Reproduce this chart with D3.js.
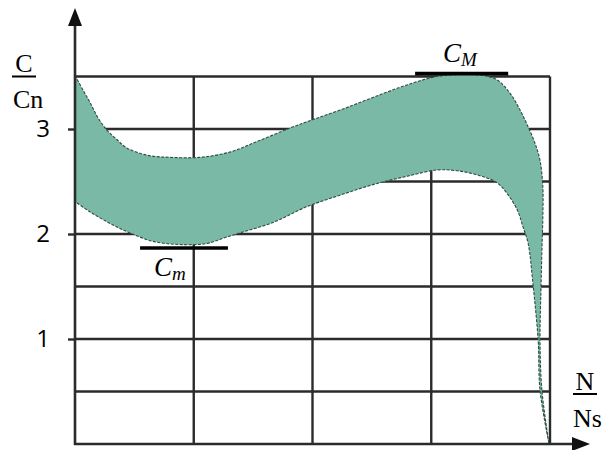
<!DOCTYPE html>
<html>
<head>
<meta charset="utf-8">
<script src="https://cdn.jsdelivr.net/npm/d3@7"></script>
<style>
  html, body { margin: 0; padding: 0; background: #fff; }
  svg { display: block; }
</style>
</head>
<body>
<svg id="chart" width="609" height="450"></svg>
<script>
// Torque band C/Cn against speed N/Ns: upper and lower limiting curves
const upperN = [0, 0.017, 0.032, 0.048, 0.067, 0.088, 0.109, 0.152, 0.2, 0.263, 0.326, 0.383, 0.453, 0.501, 0.558, 0.627, 0.699, 0.762, 0.821, 0.859, 0.888, 0.916, 0.937, 0.954, 0.968, 0.979, 0.985, 0.985, 0.983, 0.981, 0.979, 0.983, 0.998];
const upperC = [3.51, 3.37, 3.25, 3.11, 2.99, 2.90, 2.82, 2.75, 2.73, 2.73, 2.78, 2.88, 3.01, 3.09, 3.18, 3.30, 3.42, 3.50, 3.52, 3.51, 3.47, 3.34, 3.18, 3.02, 2.87, 2.70, 2.44, 2.18, 1.85, 1.47, 0.99, 0.51, 0.0];
const lowerN = [0, 0.032, 0.074, 0.116, 0.164, 0.221, 0.278, 0.312, 0.347, 0.417, 0.488, 0.558, 0.627, 0.699, 0.762, 0.8, 0.832, 0.863, 0.888, 0.909, 0.931, 0.943, 0.954, 0.964, 0.975, 0.979, 0.998];
const lowerC = [2.31, 2.21, 2.10, 2.01, 1.93, 1.90, 1.91, 1.96, 2.01, 2.11, 2.26, 2.37, 2.47, 2.55, 2.61, 2.605, 2.58, 2.54, 2.49, 2.39, 2.23, 2.07, 1.91, 1.53, 0.99, 0.51, 0.0];

// Axis ticks and grid
const yTickValues = [1, 2, 3];
const yGridValues = [0.5, 1, 1.5, 2, 2.5, 3, 3.5];
const xGridValues = [0.25, 0.5, 0.75, 1];

// Maximum and minimum torque markers: [start N, end N, C]
const maxMarker = [0.716, 0.912, 3.527];
const minMarker = [0.137, 0.322, 1.867];

const svg = d3.select("#chart");
const x = d3.scaleLinear().domain([0, 1]).range([75, 550]);
const y = d3.scaleLinear().domain([0, 3.5]).range([444, 76.5]);

const lineColor = "#2b2b2b";

// grid
const grid = svg.append("g");
grid.selectAll("line.h").data(yGridValues).join("line")
  .attr("x1", x(0)).attr("x2", x(1))
  .attr("y1", d => y(d)).attr("y2", d => y(d))
  .attr("stroke", lineColor).attr("stroke-width", 2.4);
grid.selectAll("line.v").data(xGridValues).join("line")
  .attr("x1", d => x(d)).attr("x2", d => x(d))
  .attr("y1", y(0)).attr("y2", y(3.5))
  .attr("stroke", lineColor).attr("stroke-width", 2.4);

// y axis ticks and labels
const yAxis = d3.axisLeft(y).tickValues(yTickValues).tickSize(7).tickPadding(18).tickFormat(d3.format("d"));
const ya = svg.append("g").attr("transform", `translate(${x(0)},0)`).call(yAxis);
ya.select(".domain").remove();
ya.selectAll(".tick line").attr("stroke", lineColor).attr("stroke-width", 2.4);
ya.selectAll(".tick text")
  .attr("font-family", "'Open Sans', sans-serif")
  .attr("font-size", 24).attr("fill", "#000");

// torque band
const pts = (ns, cs) => ns.map((n, i) => [x(n), y(cs[i])]);
const up = pts(upperN, upperC);
const lo = pts(lowerN, lowerC).reverse();
const curve = d3.line().curve(d3.curveCatmullRom.alpha(0.5));
const bandPath = curve(up) + "L" + curve(lo).slice(1) + "Z";
svg.append("path")
  .attr("d", bandPath)
  .attr("fill", "#79b9a6")
  .attr("stroke", "#2f4a43")
  .attr("stroke-width", 1.1)
  .attr("stroke-dasharray", "3 1.5");

// axes with arrows
svg.append("line")
  .attr("x1", x(0)).attr("x2", x(0)).attr("y1", y(0) + 1).attr("y2", 20)
  .attr("stroke", lineColor).attr("stroke-width", 2.6);
svg.append("path")
  .attr("d", `M${x(0)},8 L${x(0) - 7},26 L${x(0) + 7},26 Z`)
  .attr("fill", "#111");
svg.append("line")
  .attr("x1", x(0) - 1).attr("x2", 578).attr("y1", y(0)).attr("y2", y(0))
  .attr("stroke", lineColor).attr("stroke-width", 2.6);
svg.append("path")
  .attr("d", `M590,${y(0)} L572,${y(0) - 7} L572,${y(0) + 7} Z`)
  .attr("fill", "#111");

// max / min markers
svg.append("line")
  .attr("x1", x(maxMarker[0])).attr("x2", x(maxMarker[1]))
  .attr("y1", y(maxMarker[2])).attr("y2", y(maxMarker[2]))
  .attr("stroke", "#000").attr("stroke-width", 3.6);
svg.append("line")
  .attr("x1", x(minMarker[0])).attr("x2", x(minMarker[1]))
  .attr("y1", y(minMarker[2])).attr("y2", y(minMarker[2]))
  .attr("stroke", "#000").attr("stroke-width", 3.6);

const serif = "'Liberation Serif', 'Times New Roman', serif";
const tM = svg.append("text").attr("x", 443).attr("y", 62)
  .attr("font-family", serif).attr("font-style", "italic").attr("font-size", 27).attr("fill", "#000");
tM.append("tspan").text("C");
tM.append("tspan").attr("font-size", 19).attr("dy", 4).text("M");

const tm = svg.append("text").attr("x", 154).attr("y", 276)
  .attr("font-family", serif).attr("font-style", "italic").attr("font-size", 27).attr("fill", "#000");
tm.append("tspan").text("C");
tm.append("tspan").attr("font-size", 19).attr("dy", 4).text("m");

// axis titles
svg.append("text").attr("x", 24).attr("y", 72).attr("text-anchor", "middle")
  .attr("font-family", serif).attr("font-size", 26).text("C");
svg.append("line").attr("x1", 12).attr("x2", 36).attr("y1", 76.5).attr("y2", 76.5)
  .attr("stroke", "#000").attr("stroke-width", 2);
svg.append("text").attr("x", 13).attr("y", 108)
  .attr("font-family", serif).attr("font-size", 26).text("Cn");

svg.append("text").attr("x", 585).attr("y", 390).attr("text-anchor", "middle")
  .attr("font-family", serif).attr("font-size", 26).text("N");
svg.append("line").attr("x1", 573).attr("x2", 597).attr("y1", 394).attr("y2", 394)
  .attr("stroke", "#000").attr("stroke-width", 2);
svg.append("text").attr("x", 573).attr("y", 427)
  .attr("font-family", serif).attr("font-size", 26).text("Ns");
</script>
</body>
</html>
